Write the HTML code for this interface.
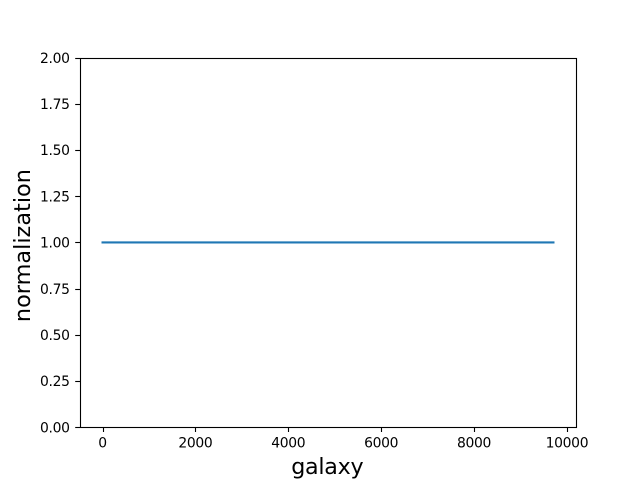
<!DOCTYPE html>
<html>
<head>
<meta charset="utf-8">
<title>Normalization per galaxy</title>
<style>
html,body{margin:0;padding:0;background:#fff;}
svg{display:block;}
text{font-family:"DejaVu Sans",sans-serif;fill:#000;}
</style>
</head>
<body>
<svg id="chart" xmlns="http://www.w3.org/2000/svg" width="640" height="480" viewBox="0 0 640 480">
<rect x="0" y="0" width="640" height="480" fill="#ffffff"></rect>
<g id="ticks"></g>
<g id="series"></g>
<rect x="80.5" y="58.5" width="496" height="369" fill="none" stroke="#000" stroke-width="1.1"></rect>
<text x="327.3" y="474" font-size="22.2" letter-spacing="-0.25" text-anchor="middle">galaxy</text>
<text x="0" y="0" font-size="22.4" text-anchor="middle" transform="translate(30 245.6) rotate(-90)">normalization</text>
</svg>
<script>
const xTicks = [0, 2000, 4000, 6000, 8000, 10000];
const xTickLabels = ["0", "2000", "4000", "6000", "8000", "10000"];
const yTicks = [0, 0.25, 0.5, 0.75, 1, 1.25, 1.5, 1.75, 2];
const yTickLabels = ["0.00", "0.25", "0.50", "0.75", "1.00", "1.25", "1.50", "1.75", "2.00"];
const galaxyIndex = [0, 9710];
const normalization = [1, 1];

const NS = "http://www.w3.org/2000/svg";
const plotLeft = 80, plotRight = 576, plotTop = 57.6, plotBottom = 427.2;
const xMin = Math.min(...galaxyIndex), xMax = Math.max(...galaxyIndex);
const xPad = (xMax - xMin) * 0.05;
const yMin = 0, yMax = 2;

function xScale(v) {
  return plotLeft + (v - (xMin - xPad)) / ((xMax + xPad) - (xMin - xPad)) * (plotRight - plotLeft);
}
function yScale(v) {
  return plotBottom - (v - yMin) / (yMax - yMin) * (plotBottom - plotTop);
}

const ticksLayer = document.getElementById("ticks");
const seriesLayer = document.getElementById("series");

xTicks.forEach(function (value, i) {
  const px = Math.round(xScale(value)) + 0.5;
  const tick = document.createElementNS(NS, "line");
  
  
  tick.setAttribute("x1", px);
  tick.setAttribute("x2", px);
  tick.setAttribute("y1", 427);
  tick.setAttribute("y2", 432);
  tick.setAttribute("stroke", "#000");
  tick.setAttribute("stroke-width", "1.1");
  ticksLayer.appendChild(tick);
  const label = document.createElementNS(NS, "text");
  
  
  label.setAttribute("x", xScale(value));
  label.setAttribute("y", 447.5);
  label.setAttribute("font-size", "13.89");
  label.setAttribute("letter-spacing", "-0.3");
  label.setAttribute("text-anchor", "middle");
  label.textContent = xTickLabels[i];
  ticksLayer.appendChild(label);
});

yTicks.forEach(function (value, i) {
  const py = Math.round(yScale(value)) + 0.5;
  const tick = document.createElementNS(NS, "line");
  
  
  tick.setAttribute("x1", 75.2);
  tick.setAttribute("x2", 80);
  tick.setAttribute("y1", py);
  tick.setAttribute("y2", py);
  tick.setAttribute("stroke", "#000");
  tick.setAttribute("stroke-width", "1.1");
  ticksLayer.appendChild(tick);
  const label = document.createElementNS(NS, "text");
  
  
  label.setAttribute("x", 69.7);
  label.setAttribute("y", yScale(value) + 5.2);
  label.setAttribute("font-size", "13.89");
  label.setAttribute("letter-spacing", "-0.3");
  label.setAttribute("text-anchor", "end");
  label.textContent = yTickLabels[i];
  ticksLayer.appendChild(label);
});

const line = document.createElementNS(NS, "polyline");


line.setAttribute("points", galaxyIndex.map(function (g, i) {
  return xScale(g) + "," + yScale(normalization[i]);
}).join(" "));
line.setAttribute("fill", "none");
line.setAttribute("stroke", "#1f77b4");
line.setAttribute("stroke-width", "2.08");
line.setAttribute("stroke-linecap", "square");
seriesLayer.appendChild(line);
</script>
</body>
</html>
